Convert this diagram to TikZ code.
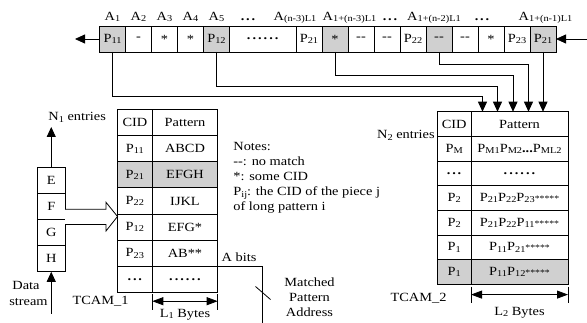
\documentclass[tikz,border=0pt]{standalone}
\usepackage{fontspec}
\setmainfont{Liberation Serif}[FakeStretch=1.15]
\usetikzlibrary{arrows.meta}
\definecolor{tcgrey}{HTML}{D0D0D0}
\newcommand{\tcfont}{\fontsize{12.5}{15}\selectfont}
\newcommand{\sub}[1]{\raisebox{-1.3pt}{\fontsize{9}{9}\selectfont #1}}
\newcommand{\tdots}{\textbf{.\kern1.8pt.\kern1.8pt.}}
\newcommand{\sdots}{\textbf{.\kern2pt.\kern2pt.\kern2pt.\kern2pt.\kern2pt.}}
\newcommand{\stars}{{\fontsize{8.5}{8}\selectfont *****}}
\tikzset{
  cell/.style  = {rectangle, draw, minimum width=26pt, minimum height=26pt,
                  inner sep=0pt, outer sep=0pt, font=\tcfont},
  cellg/.style = {cell, fill=tcgrey},
  stk/.style   = {cell, minimum width=27.5pt, minimum height=26.2pt},
  ca/.style    = {cell, minimum width=34.8pt, minimum height=26.2pt},
  pa/.style    = {cell, minimum width=65.4pt, minimum height=26.2pt},
  cb/.style    = {cell, minimum width=33.7pt, minimum height=24.7pt},
  pb/.style    = {cell, minimum width=97pt, minimum height=24.7pt},
  lbl/.style   = {font=\tcfont, inner sep=1pt, anchor=base},
  ed/.style    = {-{Triangle[length=10pt,width=9pt]}},
  dim/.style   = {{Triangle[length=11pt,width=8pt]}-{Triangle[length=11pt,width=8pt]}},
  hol/.style   = {fill=white},
}

\begin{document}
\begin{tikzpicture}[x=1pt,y=-1pt,line width=0.8pt]
  \useasboundingbox (0,0) rectangle (587,323);
  % input tape
  \node[cellg] (c1)  at (112.5,39) {P\sub{11}};
  \node[cell]  (c2)  at (138.5,39) {-};
  \node[cell]  (c3)  at (164.5,39) {*};
  \node[cell]  (c4)  at (190.5,39) {*};
  \node[cellg] (c5)  at (216.5,39) {P\sub{12}};
  \node[cell, minimum width=66.5pt] (c6) at (262.75,39) {\sdots};
  \node[cell]  (c7)  at (309,39) {P\sub{21}};
  \node[cellg] (c8)  at (335,39) {*};
  \node[cell]  (c9)  at (361,39) {-{}-};
  \node[cell]  (c10) at (387,39) {-{}-};
  \node[cell]  (c11) at (413,39) {P\sub{22}};
  \node[cellg] (c12) at (439,39) {-{}-};
  \node[cell]  (c13) at (465,39) {-{}-};
  \node[cell]  (c14) at (491,39) {*};
  \node[cell]  (c15) at (517,39) {P\sub{23}};
  \node[cellg] (c16) at (543,39) {P\sub{21}};
  \coordinate (tl) at (75,39);
  \coordinate (tr) at (587,39);
  \draw[ed] (c1.west) -- (tl);
  \draw[ed] (tr) -- (c16.east);
  % addresses
  \node[lbl] (a1)  at (112.5,20.5) {A\sub{1}};
  \node[lbl] (a2)  at (138.5,20.5) {A\sub{2}};
  \node[lbl] (a3)  at (164.5,20.5) {A\sub{3}};
  \node[lbl] (a4)  at (190.5,20.5) {A\sub{4}};
  \node[lbl] (a5)  at (216.5,20.5) {A\sub{5}};
  \node[lbl] (ad1) at (248,20.5)   {\tdots};
  \node[lbl] (a6)  at (295,20.5)   {A\sub{(n-3)L1}};
  \node[lbl] (a7)  at (349.5,20.5) {A\sub{1+(n-3)L1}};
  \node[lbl] (ad2) at (390,20.5)   {\tdots};
  \node[lbl] (a8)  at (434,20.5)   {A\sub{1+(n-2)L1}};
  \node[lbl] (ad3) at (482,20.5)   {\tdots};
  \node[lbl] (a9)  at (545.5,20.5) {A\sub{1+(n-1)L1}};

  % data stream window
  \node[stk] (stkE) at (51.25,180.1) {E};
  \node[stk] (stkF) at (51.25,206.3) {F};
  \node[stk] (stkG) at (51.25,232.5) {G};
  \node[stk] (stkH) at (51.25,258.7) {H};
  \coordinate (n1top) at (51.25,127);
  \coordinate (dsbot) at (51.25,314);
  \draw[ed] (stkE.north) -- (n1top);
  \draw[ed] (dsbot) -- (stkH.south);
  \node[lbl, anchor=base west] (n1) at (47,121) {N\sub{1} entries};
  \node[lbl] (ds1) at (26,290) {Data};
  \node[lbl] (ds2) at (28.5,306) {stream};

  % TCAM_1
  \node[ca] (cidA0) at (134.9,122.4) {CID};
  \node[pa] (patA0) at (185,122.4)   {Pattern};
  \node[ca] (cidA1) at (134.9,148.6) {P\sub{11}};
  \node[pa] (patA1) at (185,148.6)   {ABCD};
  \node[ca, fill=tcgrey] (cidA2) at (134.9,174.8) {P\sub{21}};
  \node[pa, fill=tcgrey] (patA2) at (185,174.8)   {EFGH};
  \node[ca] (cidA3) at (134.9,201.0) {P\sub{22}};
  \node[pa] (patA3) at (185,201.0)   {IJKL};
  \node[ca] (cidA4) at (134.9,227.2) {P\sub{12}};
  \node[pa] (patA4) at (185,227.2)   {EFG*};
  \node[ca] (cidA5) at (134.9,253.4) {P\sub{23}};
  \node[pa] (patA5) at (185,253.4)   {AB**};
  \node[ca] (cidA6) at (134.9,279.6) {\tdots};
  \node[pa] (patA6) at (185,279.6)   {\sdots};
  \node[lbl] (tc1) at (100.5,305) {TCAM\_1};
  \draw[hol] ([yshift=-3pt]stkF.east) -- ++(41,0) -- ++(0,-7)
    -- ([yshift=10.7pt]cidA4.west) -- ++(-11.5,14.5) -- ++(0,-6.5)
    -- ([yshift=8pt]stkG.east);
  \draw ([yshift=-1.5pt]patA6.south west) -- ++(0,16);
  \draw ([yshift=-1.5pt]patA6.south east) -- ++(0,16);
  \draw[dim] ([yshift=-8.5pt]patA6.south west) -- ([yshift=-8.5pt]patA6.south east);
  \node[lbl] (l1) at (185,317.5) {L\sub{1} Bytes};

  % matched address out of TCAM_1
  \coordinate (mpa) at (262,323);
  \draw (patA5.south east) -| (mpa);
  \draw (255.5,286.5) -- (270.5,299.5);
  \node[lbl] (abits) at (239,261.5) {A bits};
  \node[lbl, align=center] (mpaddr) at (309.5,316.5) {Matched\\Pattern\\Address};

  % notes (base = last line)
  \node[lbl, anchor=base west, align=left] (notes) at (232,211)
    {Notes:\\-{}-: no match\\*: some CID\\P\sub{ij}: the CID of the piece j\\of long pattern i};

  % TCAM_2
  \node[cb] (cidB0) at (454.15,124.05) {CID};
  \node[pb] (patB0) at (519.5,124.05)  {Pattern};
  \node[cb] (cidB1) at (454.15,148.75) {P\sub{M}};
  \node[pb] (patB1) at (519.5,148.75)  {P\sub{M1}P\sub{M2}\textbf{...}P\sub{ML2}};
  \node[cb] (cidB2) at (454.15,173.45) {\tdots};
  \node[pb] (patB2) at (519.5,173.45)  {\sdots};
  \node[cb] (cidB3) at (454.15,198.15) {P\sub{2}};
  \node[pb] (patB3) at (519.5,198.15)  {P\sub{21}P\sub{22}P\sub{23}\stars};
  \node[cb] (cidB4) at (454.15,222.85) {P\sub{2}};
  \node[pb] (patB4) at (519.5,222.85)  {P\sub{21}P\sub{22}P\sub{11}\stars};
  \node[cb] (cidB5) at (454.15,247.55) {P\sub{1}};
  \node[pb] (patB5) at (519.5,247.55)  {P\sub{11}P\sub{21}\stars};
  \node[cb, fill=tcgrey] (cidB6) at (454.15,272.25) {P\sub{1}};
  \node[pb, fill=tcgrey] (patB6) at (519.5,272.25)  {P\sub{11}P\sub{12}\stars};
  \node[lbl, anchor=base east] (n2) at (436,139) {N\sub{2} entries};
  \node[lbl] (tc2) at (418.5,301.5) {TCAM\_2};
  \draw ([yshift=-2pt]patB6.south west) -- ++(0,16);
  \draw ([yshift=-2pt]patB6.south east) -- ++(0,16);
  \draw[dim] ([yshift=-10pt]patB6.south west) -- ([yshift=-10pt]patB6.south east);
  \node[lbl] (l2) at (519.5,315.5) {L\sub{2} Bytes};

  % pieces fed to TCAM_2
  \coordinate (in1) at (482.5,111.7);
  \coordinate (in2) at (497.5,111.7);
  \coordinate (in3) at (513,111.7);
  \coordinate (in4) at (528.5,111.7);
  \coordinate (in5) at (543,111.7);
  \draw[ed] (c1.south)  -- ++(0,44) -| (in1);
  \draw[ed] (c5.south)  -- ++(0,34) -| (in2);
  \draw[ed] (c8.south)  -- ++(0,23) -| (in3);
  \draw[ed] (c12.south) -- ++(0,12) -| (in4);
  \draw[ed] (c16.south) -- (in5);
\end{tikzpicture}
\end{document}
